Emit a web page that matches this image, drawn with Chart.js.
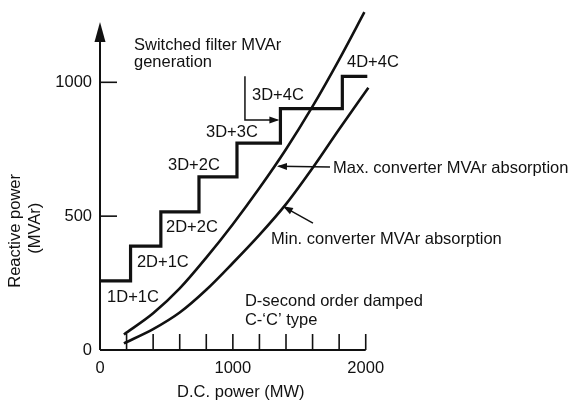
<!DOCTYPE html>
<html>
<head>
<meta charset="utf-8">
<script src="https://cdn.jsdelivr.net/npm/chart.js@4/dist/chart.umd.min.js"></script>
<style>
  html, body { margin: 0; padding: 0; background: #fff; }
  #wrap { width: 582px; height: 402px; }
</style>
</head>
<body>
<div id="wrap"><canvas id="chart" width="582" height="402"></canvas></div>
<script>
// Tick marks and tick labels
const xTickMarks  = [200, 400, 600, 800, 1000, 1200, 1400, 1600, 1800, 2000];
const xTickLabels = [0, 1000, 2000];
const yTickMarks  = [500, 1000];
const yTickLabels = [0, 500, 1000];

// Switched filter MVAr generation: power at which each bank combination is reached, and its MVAr
const stepPowerMW = [0, 230, 458, 745, 1031, 1358, 1824, 2012];
const filterMVAr  = [258, 388, 516, 647, 773, 902, 1022, 1022];
const bankLabels  = ['1D+1C', '2D+1C', '2D+2C', '3D+2C', '3D+3C', '3D+4C', '4D+4C'];

// Maximum converter MVAr absorption
const maxPowerMW = [180, 400, 600, 800, 1000, 1200, 1400, 1600, 1800, 1990];
const maxMVAr    = [58, 137, 230, 345, 470, 605, 750, 910, 1085, 1262];

// Minimum converter MVAr absorption
const minPowerMW = [180, 400, 600, 800, 1000, 1200, 1400, 1600, 1800, 2020];
const minMVAr    = [25, 78, 140, 225, 325, 430, 545, 680, 825, 980];

const ink = '#111';
const FONT = '16.5px "Liberation Sans", Arial, Helvetica, sans-serif';

const pts = (xs, ys) => xs.map((v, i) => ({ x: v, y: ys[i] }));

// Axes, tick marks, labels and leader arrows, placed in data units
const axesAndNotes = {
  id: 'axesAndNotes',
  afterDraw(chart) {
    const { ctx, scales: { x, y } } = chart;
    const X = v => x.getPixelForValue(v);
    const Y = v => y.getPixelForValue(v);
    const seg = (x1, y1, x2, y2) => { ctx.beginPath(); ctx.moveTo(x1, y1); ctx.lineTo(x2, y2); ctx.stroke(); };
    const head = (tx, ty, fx, fy, len, half) => {
      const a = Math.atan2(ty - fy, tx - fx);
      ctx.beginPath();
      ctx.moveTo(tx, ty);
      ctx.lineTo(tx - len * Math.cos(a) + half * Math.sin(a), ty - len * Math.sin(a) - half * Math.cos(a));
      ctx.lineTo(tx - len * Math.cos(a) - half * Math.sin(a), ty - len * Math.sin(a) + half * Math.cos(a));
      ctx.closePath();
      ctx.fill();
    };

    ctx.save();
    ctx.strokeStyle = ink;
    ctx.fillStyle = ink;
    ctx.lineCap = 'butt';

    // axis lines
    ctx.lineWidth = 2;
    seg(X(0), Y(0), X(2000), Y(0));
    seg(X(0), Y(0), X(0), Y(1160));
    head(X(0), Y(1225), X(0), Y(0), 20, 5.5);

    // inward tick marks
    ctx.lineWidth = 1.6;
    xTickMarks.forEach(v => seg(X(v), Y(0), X(v), Y(0) - 16));
    yTickMarks.forEach(v => seg(X(0), Y(v), X(0) + 17, Y(v)));

    // tick labels
    ctx.font = FONT;
    ctx.textBaseline = 'middle';
    ctx.textAlign = 'center';
    xTickLabels.forEach(v => ctx.fillText(String(v), X(v), Y(0) + 18));
    ctx.textAlign = 'right';
    yTickLabels.forEach(v => ctx.fillText(String(v), X(0) - 8, Y(v)));

    // axis titles
    ctx.textAlign = 'center';
    ctx.fillText('D.C. power (MW)', X(1060), Y(0) + 42);
    ctx.save();
    ctx.translate(15, Y(445));
    ctx.rotate(-Math.PI / 2);
    ctx.fillText('Reactive power', 0, 0);
    ctx.restore();
    ctx.save();
    ctx.translate(35, Y(455));
    ctx.rotate(-Math.PI / 2);
    ctx.fillText('(MVAr)', 0, 0);
    ctx.restore();

    // annotations
    ctx.textAlign = 'left';
    ctx.textBaseline = 'alphabetic';
    const notes = [
      ['Switched filter MVAr', 256, 1122],
      ['generation', 256, 1057],
      [bankLabels[0], 53, 179],
      [bankLabels[1], 278, 310],
      [bankLabels[2], 497, 441],
      [bankLabels[3], 512, 672],
      [bankLabels[4], 798, 796],
      [bankLabels[5], 1144, 934],
      [bankLabels[6], 1859, 1057],
      ['Max. converter MVAr absorption', 1754, 661],
      ['Min. converter MVAr absorption', 1287, 396],
      ['D-second order damped', 1091, 164],
      ['C-\u2018C\u2019 type', 1091, 93]
    ];
    notes.forEach(([t, vx, vy]) => ctx.fillText(t, X(vx), Y(vy)));

    // leader arrows
    ctx.lineWidth = 1.5;
    ctx.beginPath();
    ctx.moveTo(X(1091), Y(1023));
    ctx.lineTo(X(1091), Y(859));
    ctx.lineTo(X(1335), Y(859));
    ctx.stroke();
    head(X(1350), Y(859), X(1091), Y(859), 10, 3.5);

    seg(X(1731), Y(684), X(1345), Y(686));
    head(X(1332), Y(686), X(1731), Y(684), 10, 3.5);

    seg(X(1603), Y(474), X(1390), Y(533));
    head(X(1377), Y(537), X(1603), Y(474), 10, 3.5);

    ctx.restore();
  }
};

new Chart(document.getElementById('chart'), {
  type: 'line',
  data: {
    datasets: [
      {
        label: 'Switched filter MVAr generation',
        data: pts(stepPowerMW, filterMVAr),
        stepped: true,
        borderColor: ink,
        borderWidth: 3.2,
        borderJoinStyle: 'miter',
        pointRadius: 0,
        fill: false
      },
      {
        label: 'Max. converter MVAr absorption',
        data: pts(maxPowerMW, maxMVAr),
        cubicInterpolationMode: 'monotone',
        borderColor: ink,
        borderWidth: 2.6,
        pointRadius: 0,
        fill: false
      },
      {
        label: 'Min. converter MVAr absorption',
        data: pts(minPowerMW, minMVAr),
        cubicInterpolationMode: 'monotone',
        borderColor: ink,
        borderWidth: 2.6,
        pointRadius: 0,
        fill: false
      }
    ]
  },
  options: {
    responsive: false,
    animation: false,
    events: [],
    layout: { padding: { left: 100, right: 203, top: 2, bottom: 52 } },
    plugins: { legend: { display: false }, tooltip: { enabled: false } },
    scales: {
      x: { type: 'linear', min: 0, max: 2100, display: false },
      y: { type: 'linear', min: 0, max: 1300, display: false }
    }
  },
  plugins: [axesAndNotes]
});
</script>
</body>
</html>
